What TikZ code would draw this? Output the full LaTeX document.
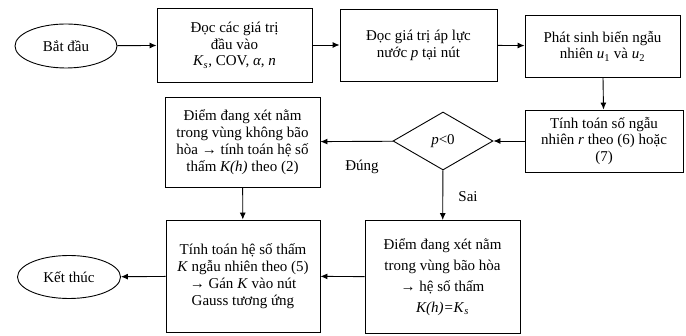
\documentclass[tikz,border=0pt]{standalone}
\usepackage{fontspec}
\setmainfont{Liberation Serif}
\usetikzlibrary{shapes.geometric,arrows.meta}

\begin{document}
\begin{tikzpicture}[
	x=1pt, y=-1pt,
	line width=0.9pt,
	font=\fontsize{15}{16.8}\selectfont,
	>={Latex[length=7pt,width=6pt]}
]
\tikzset{
    procbox/.style = {rectangle, draw=black, align=center, inner sep=2pt},
    termnode/.style = {ellipse, draw=black, minimum width=102pt, minimum height=44pt},
    decnode/.style = {diamond, draw=black, aspect=1.7, minimum width=100pt, minimum height=58pt, inner sep=0pt},
}
\useasboundingbox (0,0) rectangle (686,336);

\node (start) [termnode] at (66,46) {Bắt đầu};
\node (readin) [procbox, minimum width=155pt, minimum height=74pt] at (234.5,45)
	{Đọc các giá trị\\đầu vào\\\textit{K}\textsubscript{\textit{s}}, COV, \textit{α}, \textit{n}};
\node (readp) [procbox, minimum width=157pt, minimum height=72pt] at (418.5,45)
	{Đọc giá trị áp lực\\nước \textit{p} tại nút};
\node (genu) [procbox, minimum width=155pt, minimum height=62pt] at (602.5,46)
	{Phát sinh biến ngẫu\\nhiên \textit{u}\textsubscript{1} và \textit{u}\textsubscript{2}};
\node (calcr) [procbox, minimum width=158pt, minimum height=62pt] at (604,141)
	{Tính toán số ngẫu\\nhiên \textit{r} theo (6) hoặc\\(7)};
\node (test) [decnode] at (443,141) {\textit{p}<0};
\node (unsat) [procbox, minimum width=155pt, minimum height=90pt] at (242.5,142)
	{Điểm đang xét nằm\\trong vùng không bão\\hòa → tính toán hệ số\\thấm \textit{K(h)} theo (2)};
\node (calck) [procbox, minimum width=154pt, minimum height=112pt] at (243,276)
	{Tính toán hệ số thấm\\\textit{K} ngẫu nhiên theo (5)\\→ Gán \textit{K} vào nút\\Gauss tương ứng};
\node (sat) [procbox, minimum width=155pt, minimum height=113pt, font=\fontsize{15}{21}\selectfont] at (442.5,277)
	{Điểm đang xét nằm\\trong vùng bão hòa\\→ hệ số thấm\\\textit{K(h)=K}\textsubscript{\textit{s}}};
\node (stop) [termnode, minimum width=103pt, minimum height=43pt] at (69,277) {Kết thúc};
\node (yes) at (362,167) {Đúng};
\node (no) at (468,197) {Sai};

\draw[->] (start) -- (readin);
\draw[->] (readin) -- (readp);
\draw[->] (readp) -- (genu);
\draw[->] (genu) -- (calcr);
\draw[->] (calcr) -- (test);
\draw[->] (test) -- (unsat);
\draw[->] (test) -- (sat);
\draw[->] (unsat) -- (calck);
\draw[->] (sat) -- (calck);
\draw[->] (calck) -- (stop);
\end{tikzpicture}
\end{document}
